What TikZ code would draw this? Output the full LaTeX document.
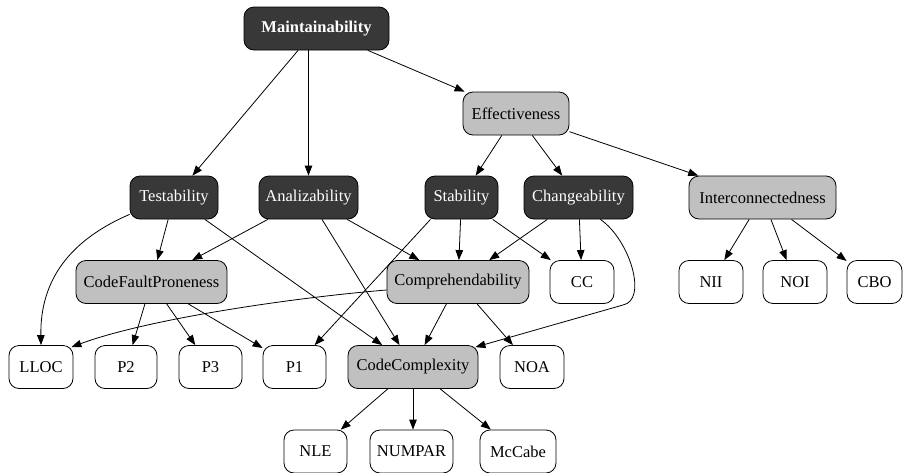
\documentclass[tikz,border=0pt]{standalone}
\usepackage{fontspec}
\setmainfont{Liberation Serif}
\usetikzlibrary{arrows.meta}
\definecolor{darkn}{HTML}{383838}
\definecolor{grayn}{HTML}{C0C0C0}
\begin{document}
\begin{tikzpicture}[x=1pt,y=-1pt,
  base/.style={draw=black, line width=0.8pt, rounded corners=10pt, minimum height=43pt, inner sep=0pt, font=\fontsize{16.5}{18}\selectfont},
  dark/.style={base, fill=darkn, text=white},
  mid/.style={base, fill=grayn},
  leaf/.style={base, fill=white},
  arr/.style={-{Triangle[length=10pt,width=7.5pt]}, line width=0.8pt}]
\useasboundingbox[fill=white] (0,0) rectangle (903,472);
% tier 0
\node[dark, minimum width=145pt, font=\fontsize{16.5}{18}\selectfont\bfseries] (M) at (316.5,28.5) {Maintainability};
% tier 1
\node[mid, minimum width=106pt] (E) at (516,113.5) {Effectiveness};
% tier 2
\node[dark, minimum width=88pt] (T) at (174,197.5) {Testability};
\node[dark, minimum width=99pt] (A) at (308.5,197.5) {Analizability};
\node[dark, minimum width=73pt] (St) at (461.5,197.5) {Stability};
\node[dark, minimum width=109pt] (Ch) at (578.5,197.5) {Changeability};
\node[mid, minimum width=147pt] (I) at (762.5,197.5) {Interconnectedness};
% tier 3
\node[mid, minimum width=151pt] (CFP) at (151.5,282) {CodeFaultProneness};
\node[mid, minimum width=142pt] (Cp) at (458,282) {Comprehendability};
\node[leaf, minimum width=64pt] (CC) at (582,282) {CC};
\node[leaf, minimum width=64pt] (NII) at (711,282) {NII};
\node[leaf, minimum width=64pt] (NOI) at (795,282) {NOI};
\node[leaf, minimum width=55pt] (CBO) at (874.5,282) {CBO};
% tier 4
\node[leaf, minimum width=64pt] (L) at (41,367) {LLOC};
\node[leaf, minimum width=62pt] (P2) at (126,367) {P2};
\node[leaf, minimum width=63pt] (P3) at (210.5,367) {P3};
\node[leaf, minimum width=63pt] (P1) at (294.5,367) {P1};
\node[mid, minimum width=130pt] (CX) at (413,367) {CodeComplexity};
\node[leaf, minimum width=64pt] (NOA) at (532,367) {NOA};
% tier 5
\node[leaf, minimum width=63pt] (NLE) at (315.5,451.5) {NLE};
\node[leaf, minimum width=83pt] (NUM) at (411.5,451.5) {NUMPAR};
\node[leaf, minimum width=76pt] (McC) at (518,451.5) {McCabe};
% edges
\draw[arr] (M) -- (T);
\draw[arr] (M.south -| A.north) -- (A.north);
\draw[arr] (M) -- (E);
\draw[arr] (E) -- (St);
\draw[arr] (E) -- (Ch);
\draw[arr] (E) -- (I);
\draw[arr] ([yshift=5pt]T.south west) .. controls (70,240) and (40,280) .. (L.north);
\draw[arr] (T) -- (CFP);
\draw[arr] (T) -- (CX);
\draw[arr] (A) -- (CFP);
\draw[arr] (A) -- (Cp);
\draw[arr] (A) -- (CX);
\draw[arr] ([xshift=-31pt]St.south) -- (P1);
\draw[arr] (St) -- (Cp);
\draw[arr] (St) -- (CC);
\draw[arr] (Ch) -- (Cp);
\draw[arr] (Ch) -- (CC);
\coordinate (chk) at (623,305);
\draw[arr] ([xshift=-33pt]Ch.south east) .. controls (630,240) and (648,300) .. (chk) -- ([xshift=-3pt,yshift=-2pt]CX.north east);
\draw[arr] (I) -- (NII);
\draw[arr] (I) -- (NOI);
\draw[arr] (I) -- (CBO);
\draw[arr] (CFP) -- (P2);
\draw[arr] (CFP) -- (P3);
\draw[arr] (CFP) -- (P1);
\draw[arr] ([yshift=-8pt]Cp.west) .. controls (300,297) and (150,318) .. ([xshift=-2pt,yshift=-2pt]L.north east);
\draw[arr] (Cp) -- (CX);
\draw[arr] (Cp) -- (NOA);
\draw[arr] (CX) -- (NLE);
\draw[arr] (CX.south) -- (CX.south |- NUM.north);
\draw[arr] (CX) -- (McC);
\end{tikzpicture}
\end{document}
